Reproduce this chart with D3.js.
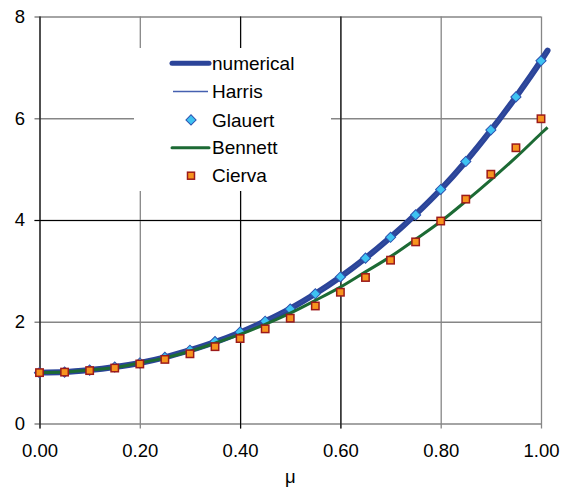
<!DOCTYPE html>
<html>
<head>
<meta charset="utf-8">
<script src="https://cdn.jsdelivr.net/npm/d3@7/dist/d3.min.js"></script>
<style>
  html, body { margin: 0; padding: 0; background: #fff; }
  svg { display: block; font-family: "Liberation Sans", Arial, sans-serif; }
</style>
</head>
<body>
<svg id="chart" width="572" height="492"></svg>
<script>
// Advance ratio samples
const mu = [0.00, 0.05, 0.10, 0.15, 0.20, 0.25, 0.30, 0.35, 0.40, 0.45, 0.50,
            0.55, 0.60, 0.65, 0.70, 0.75, 0.80, 0.85, 0.90, 0.95, 1.00];
// Continuous curves are computed slightly past mu = 1
const muLine = [...mu, 1.013];

const numerical = [1.00, 1.01, 1.05, 1.11, 1.19, 1.30, 1.44, 1.60, 1.79, 2.01, 2.26,
                   2.55, 2.88, 3.25, 3.66, 4.11, 4.60, 5.15, 5.76, 6.42, 7.13, 7.33];
const harris    = [1.00, 1.01, 1.05, 1.11, 1.19, 1.30, 1.44, 1.60, 1.79, 2.01, 2.26,
                   2.55, 2.88, 3.25, 3.66, 4.11, 4.60, 5.15, 5.76, 6.42, 7.13, 7.33];
const glauert   = [1.00, 1.01, 1.05, 1.11, 1.19, 1.30, 1.44, 1.61, 1.80, 2.01, 2.25,
                   2.55, 2.88, 3.25, 3.66, 4.10, 4.60, 5.15, 5.77, 6.42, 7.13];
const bennett   = [1.00, 1.01, 1.05, 1.10, 1.19, 1.29, 1.42, 1.58, 1.75, 1.95, 2.17,
                   2.42, 2.68, 2.98, 3.28, 3.62, 3.97, 4.37, 4.79, 5.23, 5.70, 5.82];
const cierva    = [1.00, 1.01, 1.04, 1.09, 1.17, 1.26, 1.37, 1.51, 1.67, 1.86, 2.07,
                   2.31, 2.58, 2.87, 3.21, 3.57, 3.98, 4.41, 4.90, 5.42, 5.99];

const xTicks = [0, 0.2, 0.4, 0.6, 0.8, 1.0];
const yTicks = [0, 2, 4, 6, 8];
const legendLabels = ["numerical", "Harris", "Glauert", "Bennett", "Cierva"];

// Gridlines drawn in solid black rather than grey
const darkX = [0, 0.4, 0.6];
const darkY = [4];

const GREY = "#868686";
const BLUE = "#2b4499";
const HARRIS_BLUE = "#4560b0";
const GREEN = "#1c6a34";
const DIAMOND_FILL = "#3ec3f2";
const DIAMOND_STROKE = "#2d53b0";
const SQUARE_FILL = "#f7941e";
const SQUARE_STROKE = "#9c1a1a";
const FONT = "Liberation Sans, Arial, sans-serif";
const TICK_FONT = 18.5;
const LEGEND_FONT = 19;

const svg = d3.select("#chart");
const x = d3.scaleLinear().domain([0, 1]).range([39.5, 541]);
const y = d3.scaleLinear().domain([0, 8]).range([423.5, 16.5]);

const tickLen = 5;
const xAxisY = y(0) + tickLen;
const yAxisX = x(0) - tickLen;

function gridLayer(xVals, yVals, color, width) {
  const gy = svg.append("g")
    .attr("transform", `translate(${yAxisX},0)`)
    .call(d3.axisLeft(y).tickValues(yVals).tickFormat("")
      .tickSizeInner(-(x(1) - yAxisX)).tickSizeOuter(0));
  gy.select(".domain").remove();
  gy.selectAll(".tick line").attr("stroke", color).attr("stroke-width", width);

  const gx = svg.append("g")
    .attr("transform", `translate(0,${xAxisY})`)
    .call(d3.axisBottom(x).tickValues(xVals).tickFormat("")
      .tickSizeInner(-(xAxisY - y(8))).tickSizeOuter(0));
  gx.select(".domain").remove();
  gx.selectAll(".tick line").attr("stroke", color).attr("stroke-width", width);
}

// Grey grid first, black lines over it
gridLayer(xTicks, yTicks, GREY, 1.3);
gridLayer(darkX, darkY, "#000", 1.1);

// Tick labels
const yLab = svg.append("g")
  .attr("transform", `translate(${yAxisX},0)`)
  .call(d3.axisLeft(y).tickValues(yTicks).tickFormat(d3.format("d"))
    .tickSize(0).tickPadding(9.5));
yLab.select(".domain").remove();
yLab.selectAll("text").attr("font-size", TICK_FONT).attr("fill", "#000")
  .attr("font-family", FONT);

const xLab = svg.append("g")
  .attr("transform", `translate(0,${xAxisY})`)
  .call(d3.axisBottom(x).tickValues(xTicks).tickFormat(d3.format(".2f"))
    .tickSize(0).tickPadding(15.5));
xLab.select(".domain").remove();
xLab.selectAll("text").attr("font-size", TICK_FONT).attr("fill", "#000")
  .attr("font-family", FONT);

svg.append("text")
  .attr("x", x(0.5)).attr("y", 483)
  .attr("text-anchor", "middle")
  .attr("font-size", TICK_FONT)
  .text("μ");

// Legend background hides the grid behind it
const lgX0 = 134, lgY0 = 48, lgX1 = 331, lgY1 = 191;
svg.append("rect")
  .attr("x", lgX0).attr("y", lgY0)
  .attr("width", lgX1 - lgX0).attr("height", lgY1 - lgY0)
  .attr("fill", "#fff");

// Series
const line = (xs, ys) => d3.line()
  .x((d, i) => x(xs[i])).y(d => y(d))
  .curve(d3.curveMonotoneX)(ys);

svg.append("path").attr("d", line(muLine, numerical))
  .attr("fill", "none").attr("stroke", BLUE).attr("stroke-width", 6)
  .attr("stroke-linejoin", "round").attr("stroke-linecap", "round");

svg.append("path").attr("d", line(muLine, harris))
  .attr("fill", "none").attr("stroke", HARRIS_BLUE).attr("stroke-width", 1.3)
  .attr("opacity", 0.35);

const diamondSide = 7.2;
svg.append("g").selectAll("rect")
  .data(glauert)
  .join("rect")
  .attr("x", -diamondSide / 2).attr("y", -diamondSide / 2)
  .attr("width", diamondSide).attr("height", diamondSide)
  .attr("transform", (d, i) => `translate(${x(mu[i])},${y(d)}) rotate(45)`)
  .attr("fill", DIAMOND_FILL).attr("stroke", DIAMOND_STROKE).attr("stroke-width", 1);

svg.append("path").attr("d", line(muLine, bennett))
  .attr("fill", "none").attr("stroke", GREEN).attr("stroke-width", 3)
  .attr("stroke-linejoin", "round");

const sq = 7.4;
svg.append("g").selectAll("rect")
  .data(cierva)
  .join("rect")
  .attr("x", (d, i) => x(mu[i]) - sq / 2)
  .attr("y", d => y(d) - sq / 2)
  .attr("width", sq).attr("height", sq)
  .attr("fill", SQUARE_FILL).attr("stroke", SQUARE_STROKE).attr("stroke-width", 1.5);

// Legend
const lg = svg.append("g");
const rowY = [63.3, 91.6, 119.9, 147.7, 175.7];
const sx0 = 172, sx1 = 209, sxm = 191, tx = 212;

lg.append("line").attr("x1", sx0).attr("x2", sx1).attr("y1", rowY[0]).attr("y2", rowY[0])
  .attr("stroke", BLUE).attr("stroke-width", 5).attr("stroke-linecap", "round");
lg.append("line").attr("x1", sx0 + 1).attr("x2", sx1 - 1).attr("y1", rowY[1]).attr("y2", rowY[1])
  .attr("stroke", HARRIS_BLUE).attr("stroke-width", 1.5);
lg.append("rect")
  .attr("x", -diamondSide / 2).attr("y", -diamondSide / 2)
  .attr("width", diamondSide).attr("height", diamondSide)
  .attr("transform", `translate(${sxm},${rowY[2]}) rotate(45)`)
  .attr("fill", DIAMOND_FILL).attr("stroke", DIAMOND_STROKE).attr("stroke-width", 1);
lg.append("line").attr("x1", sx0).attr("x2", sx1).attr("y1", rowY[3]).attr("y2", rowY[3])
  .attr("stroke", GREEN).attr("stroke-width", 3).attr("stroke-linecap", "round");
lg.append("rect")
  .attr("x", sxm - 3.5).attr("y", rowY[4] - 3.5).attr("width", 7).attr("height", 7)
  .attr("fill", SQUARE_FILL).attr("stroke", SQUARE_STROKE).attr("stroke-width", 1.5);

lg.selectAll("text")
  .data(legendLabels)
  .join("text")
  .attr("x", tx)
  .attr("y", (d, i) => rowY[i])
  .attr("dy", "0.35em")
  .attr("font-size", LEGEND_FONT)
  .attr("fill", "#000")
  .text(d => d);
</script>
</body>
</html>
